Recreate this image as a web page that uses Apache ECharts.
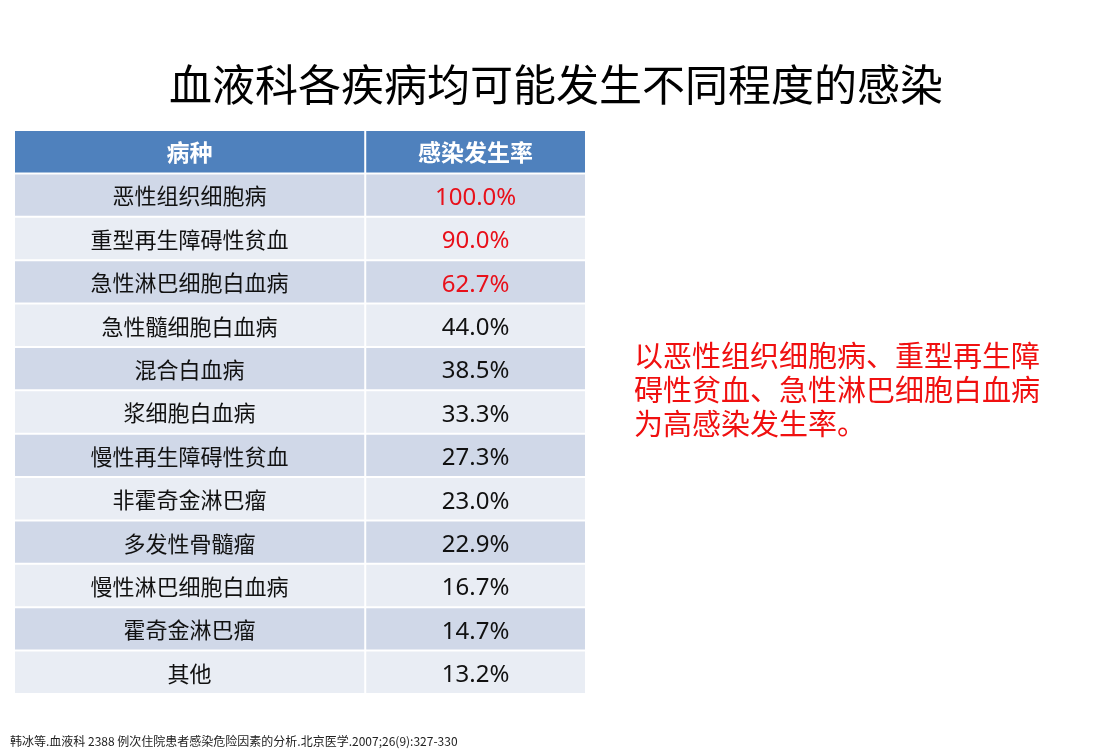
<!DOCTYPE html>
<html>
<head>
<meta charset="utf-8">
<title>血液科各疾病感染发生率</title>
<script src="https://cdn.jsdelivr.net/npm/echarts@6/dist/echarts.min.js"></script>
<style>
  html, body { margin: 0; padding: 0; background: #fff; }
  #chart { width: 1096px; height: 756px; }
</style>
</head>
<body>
<div id="chart"></div>
<script>
// table data
var headers = ['病种', '感染发生率']
var diseases = ['恶性组织细胞病', '重型再生障碍性贫血', '急性淋巴细胞白血病', '急性髓细胞白血病', '混合白血病', '浆细胞白血病',
  '慢性再生障碍性贫血', '非霍奇金淋巴瘤', '多发性骨髓瘤', '慢性淋巴细胞白血病', '霍奇金淋巴瘤', '其他']
var rates = [100.0, 90.0, 62.7, 44.0, 38.5, 33.3, 27.3, 23.0, 22.9, 16.7, 14.7, 13.2]
var highlightCount = 3 // first rows shown in red

var FONT = '"Noto Sans CJK SC", "Noto Sans", sans-serif'
var NUM_FONT = '"Noto Sans", "Noto Sans CJK SC", sans-serif'
var colEdges = [0, 350, 570] // column borders along the x axis

// rows: header first, then one per disease
var rowNames = ['header'].concat(diseases)
var cells = []
headers.forEach(function(h, c) {
  cells.push([c, 0, h])
})
diseases.forEach(function(d, i) {
  cells.push([0, i + 1, d])
  cells.push([1, i + 1, rates[i].toFixed(1) + '%'])
})

function renderCell(params, api) {
  var col = api.value(0)
  var row = api.value(1)
  var text = cells[params.dataIndex][2]
  var left = api.coord([colEdges[col], row])
  var right = api.coord([colEdges[col + 1], row])
  var h = api.size([0, 1])[1]
  var isNum = row > 0 && col === 1
  var fill, color, weight
  if (row === 0) {
    fill = '#4F81BD'; color = '#fff'; weight = 'bold'
  } else {
    fill = row % 2 === 1 ? '#D0D8E8' : '#E9EDF4'
    color = (isNum && row <= highlightCount) ? '#E8101A' : '#111'
    weight = 'normal'
  }
  return {
    type: 'group',
    children: [{
      type: 'rect',
      shape: { x: left[0] + 1, y: left[1] - h / 2 + 1, width: right[0] - left[0] - 2, height: h - 2 },
      style: { fill: fill }
    }, {
      type: 'text',
      style: {
        text: text,
        x: (left[0] + right[0]) / 2,
        y: left[1] + (isNum ? 3 : 1),
        align: 'center',
        verticalAlign: 'middle',
        fill: color,
        fontSize: isNum ? 24 : (row === 0 ? 23 : 22),
        fontWeight: weight,
        fontFamily: isNum ? NUM_FONT : FONT
      }
    }]
  }
}

var chart = echarts.init(document.getElementById('chart'), null, { renderer: 'canvas' })
chart.setOption({
  backgroundColor: '#fff',
  animation: false,
  title: {
    text: '血液科各疾病均可能发生不同程度的感染',
    left: 551,
    top: 58,
    textAlign: 'center',
    textStyle: { fontSize: 43, fontWeight: 'normal', color: '#000', fontFamily: FONT }
  },
  grid: { left: 14, top: 130, width: 572, height: 564 },
  xAxis: { type: 'value', min: 0, max: 570, show: false },
  yAxis: { type: 'category', data: rowNames, inverse: true, show: false },
  series: [{
    type: 'custom',
    renderItem: renderCell,
    data: cells.map(function(c) { return [c[0], c[1]] })
  }],
  graphic: [{
    type: 'text',
    left: 634,
    top: 339,
    style: {
      text: '以恶性组织细胞病、重型再生障\n碍性贫血、急性淋巴细胞白血病\n为高感染发生率。',
      fill: '#F01010',
      fontSize: 29,
      lineHeight: 34,
      fontFamily: FONT
    }
  }, {
    type: 'text',
    left: 10,
    top: 735,
    style: {
      text: '韩冰等.血液科 2388 例次住院患者感染危险因素的分析.北京医学.2007;26(9):327-330',
      fill: '#222',
      fontSize: 12,
      fontFamily: FONT
    }
  }]
})
</script>
</body>
</html>
